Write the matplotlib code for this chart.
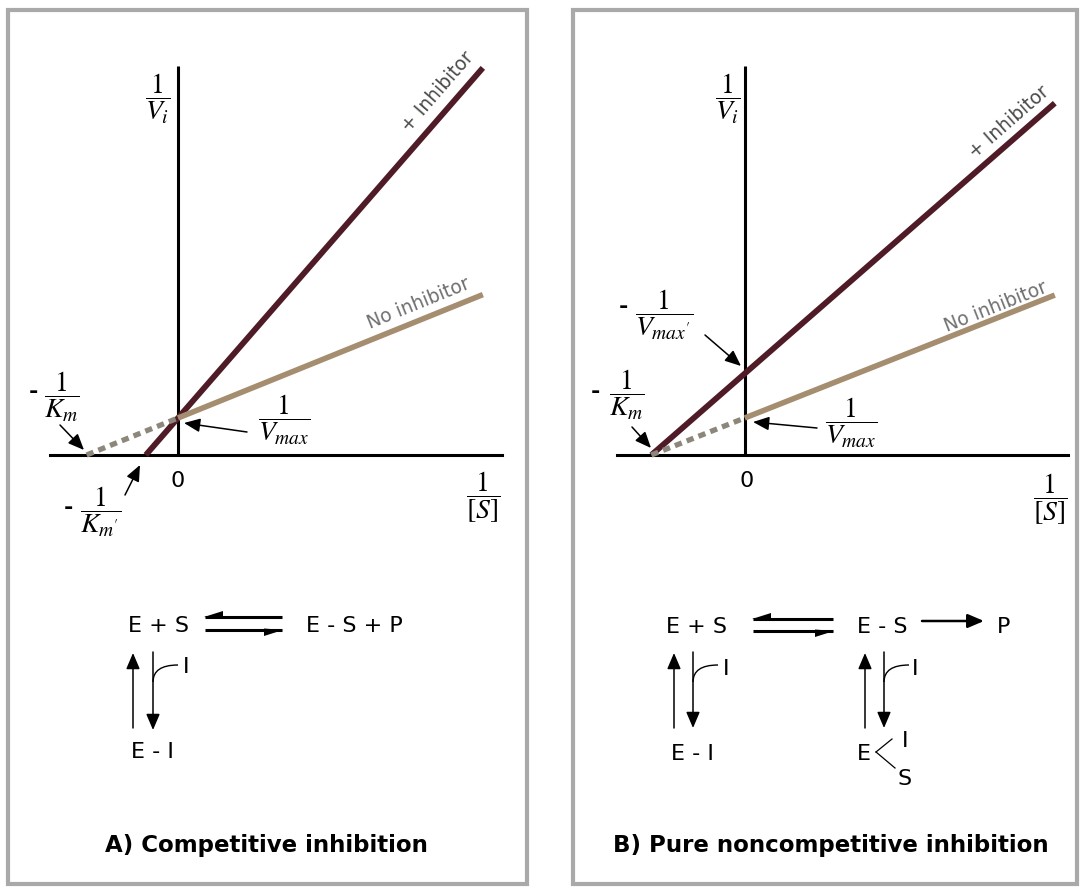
import numpy as np
import matplotlib.pyplot as plt
from matplotlib.patches import Rectangle, PathPatch
from matplotlib.path import Path

plt.rcParams['mathtext.fontset'] = 'stix'

# Lineweaver-Burk lines for panel A (competitive) and panel B (pure noncompetitive)
titles = ['A) Competitive inhibition', 'B) Pure noncompetitive inhibition']
inv_s_end = [3.5, 3.52]        # right end of the drawn lines, 1/[S]
inv_vmax = [1.0, 1.0]          # 1/Vmax, no inhibitor
inv_km = [1.05, 1.06]          # 1/Km, no inhibitor
inv_vmax_inh = [1.0, 2.2]      # 1/Vmax', with inhibitor
inv_km_inh = [0.37, 1.06]      # 1/Km', with inhibitor
xlims = [(-1.47, 3.72), (-1.45, 3.67)]
ylim_top = 10.51

W, H = 1081, 888
fig = plt.figure(figsize=(W / 100, H / 100), dpi=100)
fig.patch.set_facecolor('white')


def rect(l, r, t, b):
    return [l / W, 1 - b / H, (r - l) / W, (b - t) / H]


over = fig.add_axes([0, 0, 1, 1], zorder=5)
over.set_xlim(0, W)
over.set_ylim(H, 0)
over.axis('off')
over.patch.set_alpha(0)

maroon = '#4e1b27'
tan = '#a58d6f'
dash_c = '#8d877b'

boxes = [(50, 502, 66, 455), (617, 1068, 66, 455)]
axes = []
for i in range(2):
    ax = fig.add_axes(rect(*boxes[i]), zorder=2)
    ax.patch.set_alpha(0)
    ax.set_xlim(*xlims[i])
    ax.set_ylim(0, ylim_top)
    ax.spines['top'].set_visible(False)
    ax.spines['right'].set_visible(False)
    ax.spines['left'].set_position(('data', 0))
    ax.spines['bottom'].set_position(('data', 0))
    ax.spines['left'].set_linewidth(2.2)
    ax.spines['bottom'].set_linewidth(2.2)
    ax.spines['left'].set_capstyle('butt')
    ax.set_xticks([])
    ax.set_yticks([])

    x_dash = np.array([-inv_km[i], 0])
    y_dash = inv_vmax[i] * (1 + x_dash / inv_km[i])
    x_sol = np.array([0, inv_s_end[i]])
    y_sol = inv_vmax[i] * (1 + x_sol / inv_km[i])
    x_inh = np.array([-inv_km_inh[i], inv_s_end[i]])
    y_inh = inv_vmax_inh[i] * (1 + x_inh / inv_km_inh[i])

    ax.plot(x_inh, y_inh, color=maroon, lw=4.2, solid_capstyle='butt', zorder=3, clip_on=False)
    ax.plot(x_dash, y_dash, color=dash_c, lw=3.8, ls=(0, (1.4, 1.0)),
            dash_capstyle='butt', zorder=4, clip_on=False)
    ax.plot(x_sol, y_sol, color=tan, lw=4.0, solid_capstyle='butt', zorder=4, clip_on=False)
    axes.append((ax, (x_inh, y_inh), (x_sol, y_sol)))


def angle(ax, xs, ys):
    p = ax.transData.transform(np.column_stack([xs, ys]))
    return np.degrees(np.arctan2(p[1, 1] - p[0, 1], p[1, 0] - p[0, 0]))


label_pos = [((438, 92), (419, 303)), ((1009, 122), (996, 307))]
for i, (ax, inh, sol) in enumerate(axes):
    (xi, yi), (xs, ys) = label_pos[i]
    over.text(xi, yi, '+ Inhibitor', fontsize=13.5, color='#4a4a4a', ha='center', va='center',
              rotation=angle(ax, *inh), rotation_mode='anchor')
    over.text(xs, ys, 'No inhibitor', fontsize=13.5, color='#707070', ha='center', va='center',
              rotation=angle(ax, *sol), rotation_mode='anchor')

# panel borders
for (l, r) in [(8, 527), (573, 1077)]:
    over.add_patch(Rectangle((l, 10), r - l, 874, fill=False, edgecolor='#a9a9a9', lw=3))

fs = 20
def frac(x, y, s, minus=None):
    over.text(x, y, s, fontsize=fs, ha='center', va='center')
    if minus is not None:
        over.text(minus[0], minus[1], '-', fontsize=16, fontweight='bold', ha='center', va='center')


frac(158, 99, r'$\dfrac{1}{V_i}$')
frac(62, 397, r'$\dfrac{1}{K_m}$', (33, 392))
frac(284, 420, r'$\dfrac{1}{V_{max}}$')
frac(101, 512, r"$\dfrac{1}{K_{m'}}$", (68, 508))
frac(483, 497, r'$\dfrac{1}{[S]}$')
frac(728, 99, r'$\dfrac{1}{V_i}$')
frac(664, 315, r"$\dfrac{1}{V_{max'}}$", (623, 307))
frac(627, 395, r'$\dfrac{1}{K_m}$', (595, 392))
frac(851, 423, r'$\dfrac{1}{V_{max}}$')
frac(1050, 499, r'$\dfrac{1}{[S]}$')
over.text(178, 487, '0', fontsize=16, ha='center', va='baseline')
over.text(747, 487, '0', fontsize=16, ha='center', va='baseline')


def arrow(x0, y0, x1, y1, lw=1.1, ms=13):
    over.annotate('', xy=(x1, y1), xytext=(x0, y0),
                  arrowprops=dict(arrowstyle='-|>,head_length=0.75,head_width=0.32', lw=lw,
                                  color='black', shrinkA=0, shrinkB=0, mutation_scale=ms))


# pointer arrows
arrow(60, 425, 84, 450)
arrow(247, 432, 184, 423)
arrow(125, 495, 140, 465)
arrow(705, 335, 741, 366)
arrow(632, 427, 651, 448)
arrow(817, 428, 753, 422)


def harpoon(x_tail, x_tip, y, up):
    over.plot([x_tail, x_tip], [y, y], color='black', lw=2.2, solid_capstyle='butt')
    d = 18 if x_tip > x_tail else -18
    b = -6 if up else 6
    over.fill([x_tip + (1 if d > 0 else -1), x_tip - d, x_tip - d], [y, y + b, y - b * 0.25],
              color='black', lw=0)


def hook(x, y0, x1, y1):
    p = Path([(x, y0), (x, y1), (x1, y1)], [Path.MOVETO, Path.CURVE3, Path.CURVE3])
    over.add_patch(PathPatch(p, fill=False, lw=1.0, color='black'))


sfs = 16
def t(x, y, s):
    over.text(x, y, s, fontsize=sfs, ha='center', va='baseline')


# scheme A
t(159, 632, 'E + S')
t(354, 632, 'E - S + P')
t(186, 673, 'I')
t(152, 758, 'E - I')
harpoon(282, 205, 617, True)
harpoon(205, 282, 630, False)
arrow(133, 728, 133, 653)
arrow(153, 652, 153, 730)
hook(153, 682, 178, 665)

# scheme B
t(697, 633, 'E + S')
t(882, 633, 'E - S')
t(1004, 633, 'P')
t(726, 675, 'I')
t(915, 675, 'I')
t(692, 760, 'E - I')
t(864, 760, 'E')
t(905, 747, 'I')
t(905, 785, 'S')
harpoon(833, 753, 619, True)
harpoon(753, 833, 631, False)
arrow(922, 621, 984, 621, lw=1.8)
arrow(674, 728, 674, 653)
arrow(693, 652, 693, 728)
arrow(865, 728, 865, 653)
arrow(884, 652, 884, 728)
hook(693, 682, 718, 665)
hook(884, 682, 909, 665)
over.plot([876, 892], [752, 739], color='black', lw=0.9)
over.plot([876, 895], [752, 768], color='black', lw=0.9)

over.text(266, 845, titles[0], fontsize=16.5, fontweight='bold', ha='center', va='center')
over.text(831, 845, titles[1], fontsize=16.5, fontweight='bold', ha='center', va='center')

fig.savefig('out.png', dpi=100, facecolor='white')
